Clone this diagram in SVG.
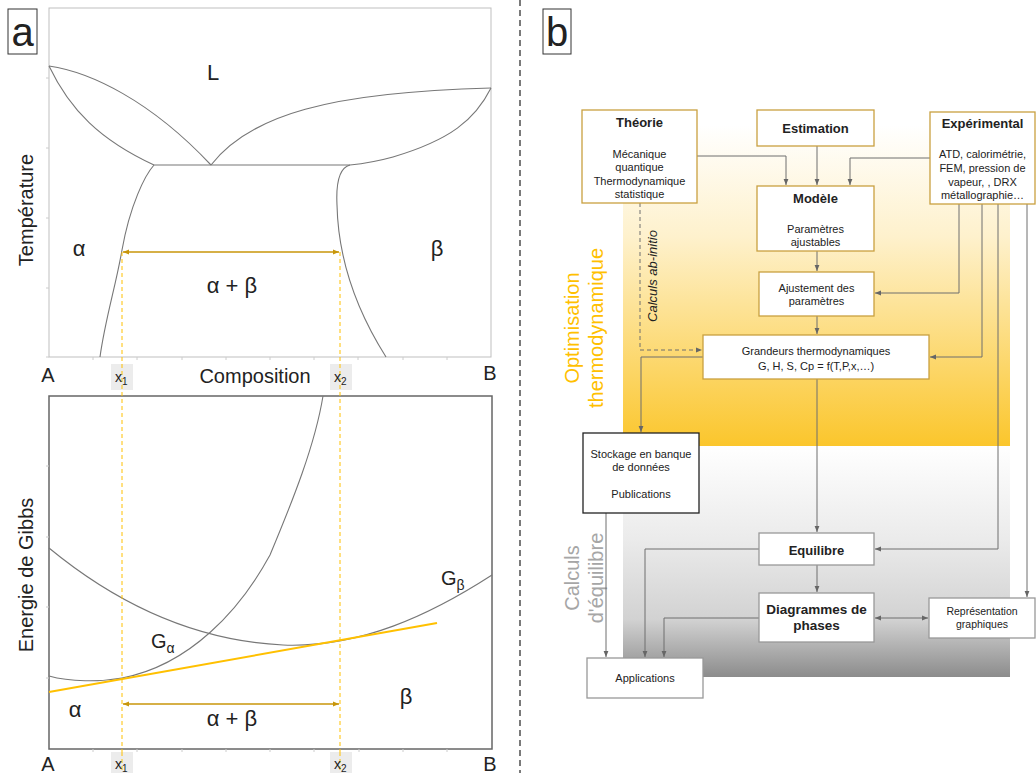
<svg xmlns="http://www.w3.org/2000/svg" width="1036" height="773" viewBox="0 0 1036 773">
<defs>
<style>
text{font-family:"Liberation Sans",Arial,sans-serif;fill:#222}
.curve{fill:none;stroke:#777;stroke-width:1.1}
.tick{stroke:#ccc;stroke-width:1}
.ylw{stroke:#FFC000;stroke-width:1;stroke-dasharray:4,3;fill:none}
.gold{stroke:#C8960A;stroke-width:1.6;fill:none}
.lbl{font-size:22px;text-anchor:middle}
.axl{font-size:20px;text-anchor:middle}
.tb{fill:#ececec}
.bx{fill:#fff;stroke:#C9A040;stroke-width:1.3}
.bk{fill:#fff;stroke:#222;stroke-width:1.3}
.gr{fill:#fff;stroke:#999;stroke-width:1.3}
.t{font-size:11px;text-anchor:middle}
.tbld{font-size:13px;font-weight:bold;text-anchor:middle}
.con{fill:none;stroke:#6e6e6e;stroke-width:1}
</style>
<marker id="ah" viewBox="0 0 10 10" refX="10" refY="5" markerWidth="6" markerHeight="6" orient="auto-start-reverse" markerUnits="userSpaceOnUse"><path d="M0,1 L10,5 L0,9 z" fill="#666"/></marker>
<marker id="ag" viewBox="0 0 10 10" refX="10" refY="5" markerWidth="6" markerHeight="6" orient="auto-start-reverse" markerUnits="userSpaceOnUse"><path d="M0,1 L10,5 L0,9 z" fill="#C8960A"/></marker>
<linearGradient id="gy" x1="0" y1="0" x2="0" y2="1"><stop offset="0" stop-color="#FFFFFF"/><stop offset="0.35" stop-color="#FEF1CC"/><stop offset="1" stop-color="#FBC62C"/></linearGradient>
<linearGradient id="gg" x1="0" y1="0" x2="0" y2="1"><stop offset="0" stop-color="#FFFFFF"/><stop offset="0.4" stop-color="#EBEBEB"/><stop offset="0.75" stop-color="#D2D2D2"/><stop offset="1" stop-color="#8C8C8C"/></linearGradient>
</defs>
<rect width="1036" height="773" fill="#fff"/>

<!-- Panel a -->
<g id="panel-a-label"><rect x="8" y="9" width="29" height="45" fill="#fff" stroke="#333" stroke-width="1"/><text x="22.5" y="46" style="font-size:40px;text-anchor:middle">a</text></g>

<g id="phase-diagram">
<rect x="49" y="8" width="442" height="349" fill="none" stroke="#bfbfbf" stroke-width="1"/>
<g class="tick">
<path d="M46,78H49M46,148H49M46,218H49M46,288H49M46,357H49"/>
<path d="M93,357V360M137,357V360M182,357V360M226,357V360M270,357V360M314,357V360M358,357V360M403,357V360M447,357V360"/>
</g>
<path class="curve" d="M49,66 C90,72 150,100 211,165"/>
<path class="curve" d="M49,66 C70,110 100,140 154,165"/>
<path class="curve" d="M154,165 H350"/>
<path class="curve" d="M211,165 C250,115 330,92 491,88"/>
<path class="curve" d="M491,88 C475,120 450,140 393,157 C375,162 360,164 350,165"/>
<path class="curve" d="M350,165 C338,168 336,185 337,205 C338,250 350,300 386,357"/>
<path class="curve" d="M154,165 C145,175 130,205 122,250 C116,285 105,320 100,357"/>
<text class="lbl" x="213" y="80">L</text>
<text class="lbl" x="79" y="256">α</text>
<text class="lbl" x="437" y="256">β</text>
<text class="lbl" x="232" y="293">α + β</text>
<text class="axl" x="27" y="210" transform="rotate(-90 27 210)" dy="6">Température</text>
</g>

<g id="gibbs-diagram">
<rect x="49" y="396" width="443" height="353" fill="none" stroke="#666" stroke-width="1.5"/>
<g class="tick">
<path d="M46,466H49M46,537H49M46,607H49M46,678H49"/>
<path d="M93,749V752M137,749V752M182,749V752M226,749V752M270,749V752M314,749V752M359,749V752M403,749V752M447,749V752"/>
</g>
<path class="curve" d="M49,676 C70,682 100,682 122,678 C190,665 240,610 270,555 C293,500 315,445 323,396"/>
<path class="curve" d="M49,548 C100,590 180,640 283,645 C360,648 430,615 492,575"/>
<path d="M49,692 L437,623" stroke="#FFC000" stroke-width="2" fill="none"/>
<text x="151" y="648" style="font-size:20px">G<tspan style="font-size:14px" dy="5">α</tspan></text>
<text x="441" y="585" style="font-size:20px">G<tspan style="font-size:14px" dy="5">β</tspan></text>
<text class="lbl" x="75" y="717">α</text>
<text class="lbl" x="406" y="704">β</text>
<text class="lbl" x="232" y="726">α + β</text>
<text class="axl" x="27" y="575" transform="rotate(-90 27 575)" dy="6">Energie de Gibbs</text>
</g>

<g id="guides">
<path class="ylw" d="M122,252 V773"/>
<path class="ylw" d="M340,252 V773"/>
<path class="gold" d="M123,252 H339" marker-start="url(#ag)" marker-end="url(#ag)"/>
<path class="gold" d="M123,704 H339" marker-start="url(#ag)" marker-end="url(#ag)"/>
</g>

<g id="axis-labels">
<text class="axl" x="48" y="382">A</text>
<text class="axl" x="490" y="380">B</text>
<text class="axl" x="255" y="383">Composition</text>
<rect class="tb" x="111" y="364" width="22" height="26"/>
<rect class="tb" x="330" y="364" width="22" height="26"/>
<path class="ylw" d="M122,364 V390 M340,364 V390"/>
<text x="115" y="382" style="font-size:14px">x<tspan style="font-size:10px" dy="3">1</tspan></text>
<text x="334" y="382" style="font-size:14px">x<tspan style="font-size:10px" dy="3">2</tspan></text>
<text class="axl" x="48" y="771">A</text>
<text class="axl" x="490" y="771">B</text>
<rect class="tb" x="111" y="752" width="22" height="21"/>
<rect class="tb" x="330" y="752" width="22" height="21"/>
<path class="ylw" d="M122,752 V773 M340,752 V773"/>
<text x="115" y="769" style="font-size:14px">x<tspan style="font-size:10px" dy="3">1</tspan></text>
<text x="334" y="769" style="font-size:14px">x<tspan style="font-size:10px" dy="3">2</tspan></text>
</g>

<path id="separator" d="M520,0 V773" stroke="#333" stroke-width="1.3" stroke-dasharray="6,4"/>

<!-- Panel b -->
<g id="panel-b-label"><rect x="543" y="9" width="28" height="45" fill="#fff" stroke="#333" stroke-width="1"/><text x="557" y="46" style="font-size:40px;text-anchor:middle">b</text></g>

<g id="backgrounds">
<rect x="623" y="125" width="387" height="321" fill="url(#gy)"/>
<rect x="623" y="446" width="387" height="231" fill="url(#gg)"/>
<text transform="rotate(-90 583 328)" x="583" y="328" style="font-size:20px;text-anchor:middle;fill:#FFC000"><tspan x="583" dy="-4">Optimisation</tspan><tspan x="583" dy="24">thermodynamique</tspan></text>
<text transform="rotate(-90 583 578)" x="583" y="578" style="font-size:20px;text-anchor:middle;fill:#A6A6A6"><tspan x="583" dy="-4">Calculs</tspan><tspan x="583" dy="24">d'équilibre</tspan></text>
<text transform="rotate(-90 657 276)" x="657" y="276" style="font-size:13px;text-anchor:middle;font-style:italic">Calculs ab-initio</text>
</g>

<g id="connectors">
<path class="con" d="M697,156 H786 V185" marker-end="url(#ah)"/>
<path class="con" d="M817,146 V185" marker-end="url(#ah)"/>
<path class="con" d="M930,158 H850 V185" marker-end="url(#ah)"/>
<path class="con" d="M817,251 V271" marker-end="url(#ah)"/>
<path class="con" d="M817,316 V334" marker-end="url(#ah)"/>
<path class="con" d="M959,204 V293 H875" marker-end="url(#ah)"/>
<path class="con" d="M982,204 V357 H930" marker-end="url(#ah)"/>
<path class="con" d="M998,204 V549 H875" marker-end="url(#ah)"/>
<path class="con" d="M1027,204 V597" marker-end="url(#ah)"/>
<path class="con" d="M640,203 V350 H702" stroke-dasharray="4,3" marker-end="url(#ah)"/>
<path class="con" d="M703,357 H641 V432" marker-end="url(#ah)"/>
<path class="con" d="M817,379 V532" marker-end="url(#ah)"/>
<path class="con" d="M817,565 V592" marker-end="url(#ah)"/>
<path class="con" d="M875,618 H928" marker-start="url(#ah)" marker-end="url(#ah)"/>
<path class="con" d="M606,513 V657" marker-end="url(#ah)"/>
<path class="con" d="M759,549 H645 V657" marker-end="url(#ah)"/>
<path class="con" d="M759,618 H664 V657" marker-end="url(#ah)"/>
</g>

<g id="theorie"><rect class="bx" x="582" y="110" width="115" height="93"/>
<text class="tbld" x="639.5" y="127">Théorie</text>
<text class="t" x="639.5" y="158">Mécanique</text><text class="t" x="639.5" y="171">quantique</text><text class="t" x="639.5" y="185">Thermodynamique</text><text class="t" x="639.5" y="198">statistique</text></g>

<g id="estimation"><rect class="bx" x="757" y="110" width="117" height="36"/><text class="tbld" x="815.5" y="133">Estimation</text></g>

<g id="experimental"><rect class="bx" x="930" y="112" width="105" height="92"/>
<text class="tbld" x="982.5" y="128">Expérimental</text>
<text class="t" x="982.5" y="158">ATD, calorimétrie,</text><text class="t" x="982.5" y="172">FEM, pression de</text><text class="t" x="982.5" y="186">vapeur, , DRX</text><text class="t" x="982.5" y="199">métallographie…</text></g>

<g id="modele"><rect class="bx" x="757" y="186" width="117" height="65"/>
<text class="tbld" x="815.5" y="203">Modèle</text>
<text class="t" x="815.5" y="233">Paramètres</text><text class="t" x="815.5" y="246">ajustables</text></g>

<g id="ajustement"><rect class="bx" x="759" y="272" width="115" height="44"/>
<text class="t" x="816.5" y="292">Ajustement des</text><text class="t" x="816.5" y="305">paramètres</text></g>

<g id="grandeurs"><rect class="bx" x="703" y="335" width="226" height="44"/>
<text class="t" x="816" y="355">Grandeurs thermodynamiques</text><text class="t" x="816" y="370">G, H, S, Cp = f(T,P,x,…)</text></g>

<g id="stockage"><rect class="bk" x="583" y="433" width="116" height="80"/>
<text class="t" x="641" y="458">Stockage en banque</text><text class="t" x="641" y="471">de données</text><text class="t" x="641" y="498">Publications</text></g>

<g id="equilibre"><rect class="gr" x="759" y="533" width="115" height="32"/><text class="tbld" x="816.5" y="555">Equilibre</text></g>

<g id="diagrammes"><rect class="gr" x="759" y="593" width="115" height="49"/>
<text class="tbld" x="816.5" y="614" style="font-size:13.5px">Diagrammes de</text><text class="tbld" x="816.5" y="630" style="font-size:13.5px">phases</text></g>

<g id="representation"><rect class="gr" x="929" y="598" width="106" height="40"/>
<text class="t" x="982" y="615" style="font-size:10.5px">Représentation</text><text class="t" x="982" y="628" style="font-size:10.5px">graphiques</text></g>

<g id="applications"><rect class="gr" x="587" y="658" width="116" height="40"/><text class="t" x="645" y="682">Applications</text></g>
</svg>
